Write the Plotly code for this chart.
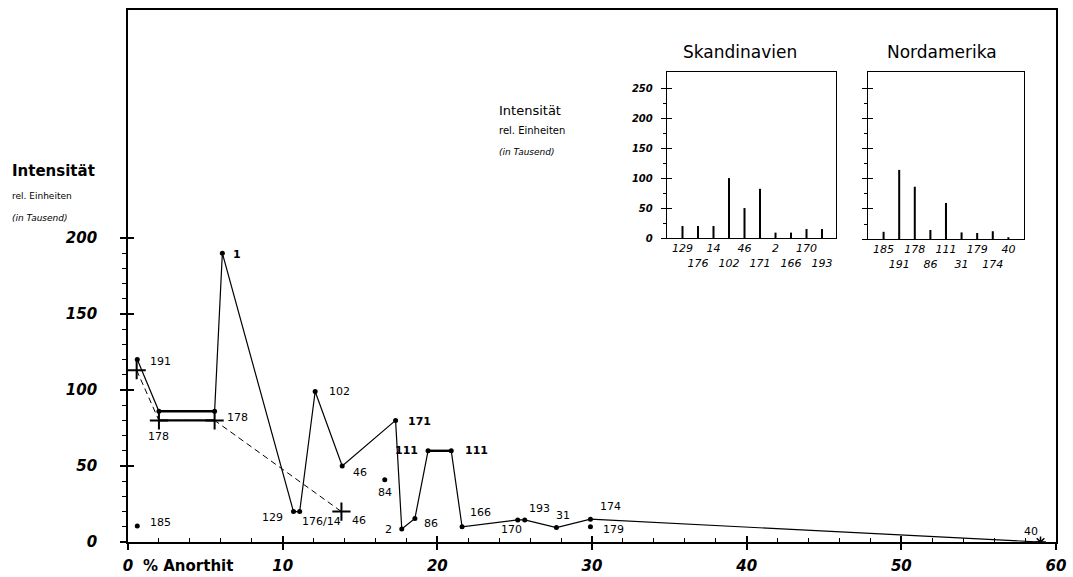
import plotly.graph_objects as go

# ---------------- data ----------------
# main solid series (x = % Anorthit, y = intensity in thousands)
main_x = [0.6, 2.0, 5.6, 6.1, 10.7, 11.1, 12.1, 13.85, 17.3, 17.7, 18.55, 19.4, 20.9, 21.6, 25.2, 25.65, 27.7, 29.9, 59.0]
main_y = [120, 86, 86, 190, 20, 20, 99, 50, 80, 8.5, 15.5, 60, 60, 10, 14.5, 14.5, 9.5, 15, 0]
main_labels = ["191", "", "178", "1", "129", "176/14", "102", "46", "171", "2", "86", "111", "111",
               "166", "170", "193", "31", "174", "40"]

# dashed series with cross markers
dash_x = [0.56, 2.0, 5.6, 13.8]
dash_y = [113, 80, 80, 20]
dash_labels = ["", "178", "", "46"]

# isolated points
single_x = [0.6, 16.6, 29.9]
single_y = [10.5, 41, 10]
single_labels = ["185", "84", "179"]

# insets
sk_cat = ["129", "176", "14", "102", "46", "171", "2", "166", "170", "193"]
sk_val = [20, 20, 20, 100, 50, 82, 9, 9, 15, 15]
na_cat = ["185", "191", "178", "86", "111", "31", "179", "174", "40"]
na_val = [12, 115, 87, 15, 60, 11, 10, 13, 3]

x_ticks = [0, 10, 20, 30, 40, 50, 60]
y_ticks = [0, 50, 100, 150, 200]
inset_ticks = [0, 50, 100, 150, 200, 250]

# ---------------- style ----------------
FONT = "DejaVu Sans"
BLK = "black"
# label offsets in pixels: (xshift, yshift, xanchor, bold)
main_off = [(11, -2, "left", False), None, (10, -6, "left", False), (9, -1, "left", True),
            (-8, -6, "right", False), (0, -10, "left", False), (12, 0, "left", False),
            (9, -6, "left", False), (10, -1, "left", True), (-8, 0, "right", False),
            (7, -5, "left", False), (-8, 0, "right", True), (12, 0, "left", True),
            (6, 14, "left", False), (-6, -10, "center", False), (2, 11, "left", False),
            (7, 12, "center", False), (8, 13, "left", False), (-10, 11, "center", False)]
dash_off = [None, (0, -16, "center", False), None, (9, -9, "left", False)]
single_off = [(11, 4, "left", False), (0, -13, "center", False), (11, -3, "left", False)]

fig = go.Figure()

# dashed line + crosses
fig.add_trace(go.Scatter(x=dash_x, y=dash_y, mode="lines", line=dict(color=BLK, width=1, dash="6px,4px"),
                         showlegend=False, hoverinfo="skip"))
fig.add_trace(go.Scatter(x=dash_x[1:3], y=dash_y[1:3], mode="lines", line=dict(color=BLK, width=2.2),
                         showlegend=False, hoverinfo="skip"))
fig.add_trace(go.Scatter(x=dash_x, y=dash_y, mode="markers",
                         marker=dict(symbol="cross-thin-open", size=13, color=BLK, line=dict(color=BLK, width=2)),
                         showlegend=False, hoverinfo="skip"))

# main solid line
fig.add_trace(go.Scatter(x=main_x, y=main_y, mode="lines", line=dict(color=BLK, width=1.2),
                         showlegend=False, hoverinfo="skip"))
for a, b in [(1, 3), (11, 13)]:
    fig.add_trace(go.Scatter(x=main_x[a:b], y=main_y[a:b], mode="lines", line=dict(color=BLK, width=2.4),
                             showlegend=False, hoverinfo="skip"))
fig.add_trace(go.Scatter(x=main_x[:-1], y=main_y[:-1], mode="markers", marker=dict(color=BLK, size=5),
                         showlegend=False, hoverinfo="skip"))
fig.add_trace(go.Scatter(x=main_x[-1:], y=main_y[-1:], mode="markers",
                         marker=dict(symbol="asterisk-open", size=9, color=BLK, line=dict(color=BLK, width=1.5)),
                         showlegend=False, hoverinfo="skip"))
fig.add_trace(go.Scatter(x=single_x, y=single_y, mode="markers", marker=dict(color=BLK, size=5),
                         showlegend=False, hoverinfo="skip"))

# insets
fig.add_trace(go.Bar(x=sk_cat, y=sk_val, width=0.13, marker=dict(color=BLK, line=dict(width=0)),
                     xaxis="x2", yaxis="y2", showlegend=False, hoverinfo="skip"))
fig.add_trace(go.Bar(x=na_cat, y=na_val, width=0.13, marker=dict(color=BLK, line=dict(width=0)),
                     xaxis="x3", yaxis="y3", showlegend=False, hoverinfo="skip"))

# invisible traces to hold overlay axes (inside half of crossing ticks)
for xa, ya in [("x6", "y6"), ("x7", "y7"), ("x8", "y8")]:
    fig.add_trace(go.Scatter(x=[None], y=[None], xaxis=xa, yaxis=ya, showlegend=False, hoverinfo="skip"))

# annotations for point labels
ann = []
def add_labels(xs, ys, labels, offs):
    for x, y, t, o in zip(xs, ys, labels, offs):
        if not t or o is None:
            continue
        dx, dy, anc, bold = o
        ann.append(dict(x=x, y=y, xref="x", yref="y", text=t, showarrow=False, xshift=dx, yshift=dy,
                        xanchor=anc, yanchor="middle",
                        font=dict(family=FONT, size=11, color=BLK, weight="bold" if bold else "normal")))
add_labels(main_x, main_y, main_labels, main_off)
add_labels(dash_x, dash_y, dash_labels, dash_off)
add_labels(single_x, single_y, single_labels, single_off)

def txt(x, y, t, size, anchor="left", weight="normal", style="normal"):
    ann.append(dict(x=x, y=y, xref="paper", yref="paper", text=t, showarrow=False, xanchor=anchor,
                    yanchor="middle", font=dict(family=FONT, size=size, color=BLK, weight=weight, style=style)))

txt(-0.127, 0.697, "Intensität", 15, weight="bold")
txt(-0.127, 0.650, "rel. Einheiten", 9)
txt(-0.127, 0.609, "(in Tausend)", 9, style="italic")
txt(0.014, -0.045, "% Anorthit", 15, weight="bold")
txt(0.3976, 0.812, "Intensität", 13)
txt(0.3976, 0.7744, "rel. Einheiten", 10)
txt(0.3976, 0.733, "(in Tausend)", 9, style="italic")
txt(0.6595, 0.921, "Skandinavien", 17, anchor="center")
txt(0.877, 0.921, "Nordamerika", 17, anchor="center")

def alt(cats):
    return [c if i % 2 == 0 else "<br>" + c for i, c in enumerate(cats)]

def minors(step, top, majors):
    out, v = [], step
    while v < top:
        if v not in majors:
            out.append(v)
        v += step
    return out

tickfont_main = dict(family=FONT, size=15, color=BLK, weight="bold", style="italic")
tickfont_in = dict(family=FONT, size=10, color=BLK, weight="bold", style="italic")

fig.update_layout(
    width=1073, height=577, margin=dict(l=128, r=17, t=10, b=35, autoexpand=False),
    paper_bgcolor="white", plot_bgcolor="white", barmode="overlay",
    annotations=ann,
    xaxis=dict(domain=[0, 1], range=[0, 60], anchor="y", showline=True, linewidth=1.8, linecolor=BLK,
               mirror=True, showgrid=False, zeroline=False, tickmode="array", tickvals=x_ticks,
               ticks="outside", ticklen=6, tickwidth=1.6, tickcolor=BLK, tickfont=tickfont_main,
               ticklabelstandoff=3, automargin=False, tickangle=0,
               minor=dict(tickmode="array", tickvals=minors(2, 60, x_ticks), ticks="inside", ticklen=4,
                          tickwidth=1.1, tickcolor=BLK, showgrid=False)),
    yaxis=dict(domain=[0, 1], range=[0, 350], anchor="x", showline=True, linewidth=1.8, linecolor=BLK,
               mirror=True, showgrid=False, zeroline=False, tickmode="array", tickvals=y_ticks,
               ticks="outside", ticklen=6, tickwidth=1.6, tickcolor=BLK, tickfont=tickfont_main,
               ticklabelstandoff=20, automargin=False,
               minor=dict(tickmode="array", tickvals=minors(10, 200, y_ticks), ticks="outside", ticklen=4,
                          tickwidth=1.1, tickcolor=BLK, showgrid=False)),
    xaxis6=dict(overlaying="x", anchor="y6", range=[0, 60], tickmode="array", tickvals=x_ticks,
                ticks="inside", ticklen=6, tickwidth=1.6, tickcolor=BLK, showticklabels=False,
                showline=False, showgrid=False, zeroline=False, automargin=False),
    yaxis6=dict(overlaying="y", anchor="x6", range=[0, 350], tickmode="array", tickvals=y_ticks,
                ticks="inside", ticklen=6, tickwidth=1.6, tickcolor=BLK, showticklabels=False,
                showline=False, showgrid=False, zeroline=False, automargin=False),
    xaxis2=dict(domain=[0.5808, 0.7629], anchor="y2", type="category", range=[-1, 9.9],
                tickmode="array", tickvals=sk_cat, ticktext=alt(sk_cat), ticks="", showline=True,
                linewidth=1.4, linecolor=BLK, mirror=True, showgrid=False, zeroline=False,
                tickangle=0, automargin=False,
                tickfont=dict(family=FONT, size=11, color=BLK, style="italic")),
    yaxis2=dict(domain=[0.5714, 0.8835], anchor="x2", range=[0, 277], tickmode="array",
                tickvals=inset_ticks, ticks="outside", ticklen=5, tickwidth=1.4, tickcolor=BLK,
                tickfont=tickfont_in, ticklabelstandoff=6, showline=True, linewidth=1.4, linecolor=BLK,
                mirror=True, showgrid=False, zeroline=False, automargin=False,
                minor=dict(tickmode="array", tickvals=[25, 75, 125, 175, 225], ticks="outside", ticklen=3,
                           tickwidth=1, tickcolor=BLK, showgrid=False)),
    xaxis7=dict(overlaying="x2", anchor="y7", range=[0, 1], visible=False),
    yaxis7=dict(overlaying="y2", anchor="x7", range=[0, 277], tickmode="array", tickvals=inset_ticks,
                ticks="inside", ticklen=5, tickwidth=1.4, tickcolor=BLK, showticklabels=False,
                showline=False, showgrid=False, zeroline=False, automargin=False),
    xaxis3=dict(domain=[0.7974, 0.9655], anchor="y3", type="category", range=[-1, 9],
                tickmode="array", tickvals=na_cat, ticktext=alt(na_cat), ticks="", showline=True,
                linewidth=1.4, linecolor=BLK, mirror=True, showgrid=False, zeroline=False,
                tickangle=0, automargin=False,
                tickfont=dict(family=FONT, size=11, color=BLK, style="italic")),
    yaxis3=dict(domain=[0.5695, 0.8835], anchor="x3", range=[0, 278], tickmode="array",
                tickvals=inset_ticks, ticks="outside", ticklen=5, tickwidth=1.4, tickcolor=BLK,
                showticklabels=False, showline=True, linewidth=1.4, linecolor=BLK,
                mirror=True, showgrid=False, zeroline=False, automargin=False,
                minor=dict(tickmode="array", tickvals=[25, 75, 125, 175, 225], ticks="outside", ticklen=3,
                           tickwidth=1, tickcolor=BLK, showgrid=False)),
    xaxis8=dict(overlaying="x3", anchor="y8", range=[0, 1], visible=False),
    yaxis8=dict(overlaying="y3", anchor="x8", range=[0, 278], tickmode="array", tickvals=inset_ticks,
                ticks="inside", ticklen=5, tickwidth=1.4, tickcolor=BLK, showticklabels=False,
                showline=False, showgrid=False, zeroline=False, automargin=False),
)

fig.write_html("out.html", config={"displayModeBar": False},
               post_script="document.body.style.margin='0';document.body.style.overflow='hidden';")
